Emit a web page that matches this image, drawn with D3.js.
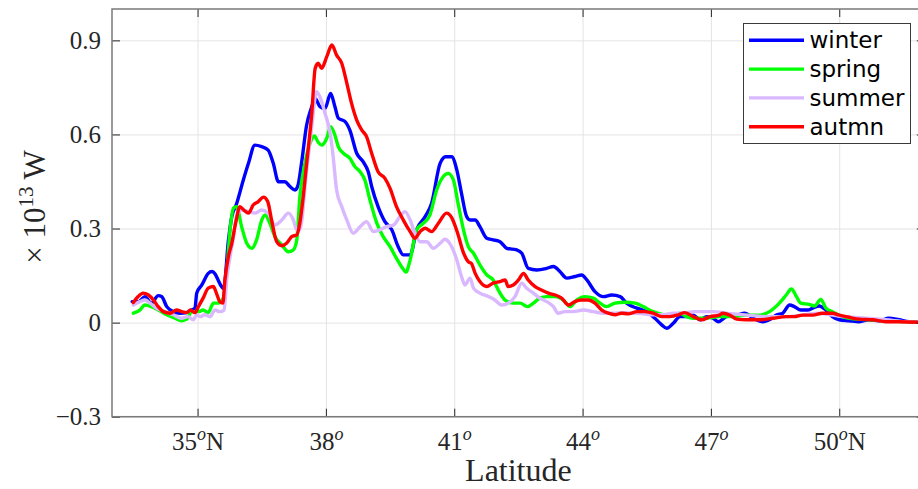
<!DOCTYPE html>
<html>
<head>
<meta charset="utf-8">
<script src="https://cdn.jsdelivr.net/npm/d3@7"></script>
<style>
  html, body { margin: 0; padding: 0; background: #fff; }
  svg { display: block; }
</style>
</head>
<body>
<svg id="chart" width="918" height="489"></svg>
<script>
// Seasonal heat transport (×10^13 W) against latitude
const seasons = ["winter", "spring", "summer", "autmn"];
const seasonColors = ["#0000ff", "#00ff00", "#d9b8ff", "#ff0000"];

const xTicks = [35, 38, 41, 44, 47, 50];
const xTickLabels = ["35^oN", "38^o", "41^o", "44^o", "47^o", "50^oN"];
const yTicks = [-0.3, 0, 0.3, 0.6, 0.9];
const yTickLabels = ["\u22120.3", "0", "0.3", "0.6", "0.9"];

// [latitude, value]
const winter = [[33.47,0.067],[33.62,0.067],[33.77,0.083],[33.92,0.062],[34.08,0.086],[34.16,0.083],[34.28,0.051],[34.43,0.035],[34.59,0.030],[34.74,0.032],[34.86,0.040],[34.94,0.046],[34.98,0.094],[35.10,0.120],[35.25,0.157],[35.34,0.163],[35.41,0.155],[35.48,0.136],[35.56,0.115],[35.61,0.108],[35.72,0.260],[35.80,0.338],[35.91,0.378],[36.07,0.455],[36.19,0.508],[36.34,0.566],[36.50,0.561],[36.65,0.550],[36.77,0.508],[36.89,0.449],[37.04,0.449],[37.16,0.434],[37.28,0.423],[37.35,0.439],[37.43,0.508],[37.55,0.630],[37.65,0.680],[37.75,0.715],[37.86,0.689],[37.98,0.683],[38.11,0.731],[38.21,0.689],[38.29,0.652],[38.45,0.641],[38.56,0.614],[38.72,0.540],[38.87,0.513],[38.99,0.481],[39.07,0.434],[39.22,0.370],[39.38,0.322],[39.54,0.296],[39.69,0.242],[39.81,0.216],[39.97,0.216],[40.12,0.296],[40.32,0.338],[40.47,0.380],[40.67,0.508],[40.80,0.529],[40.94,0.529],[41.06,0.487],[41.17,0.412],[41.29,0.338],[41.37,0.327],[41.49,0.327],[41.60,0.306],[41.76,0.269],[41.91,0.264],[42.07,0.258],[42.23,0.237],[42.46,0.232],[42.58,0.221],[42.73,0.173],[42.93,0.168],[43.16,0.173],[43.32,0.179],[43.47,0.163],[43.63,0.142],[43.82,0.147],[43.98,0.152],[44.10,0.136],[44.29,0.099],[44.49,0.083],[44.68,0.088],[44.88,0.083],[45.03,0.062],[45.27,0.046],[45.50,0.035],[45.69,0.014],[45.85,-0.007],[45.97,-0.018],[46.12,-0.002],[46.28,0.019],[46.43,0.019],[46.59,0.024],[46.74,0.009],[46.90,0.019],[47.05,0.014],[47.17,0.003],[47.36,0.019],[47.60,0.024],[47.79,0.030],[47.99,0.014],[48.22,0.003],[48.37,0.009],[48.53,0.024],[48.68,0.030],[48.84,0.056],[48.95,0.051],[49.10,0.040],[49.26,0.040],[49.38,0.046],[49.53,0.053],[49.69,0.040],[49.84,0.019],[50.00,0.009],[50.23,0.006],[50.47,0.003],[50.70,0.009],[50.93,0.006],[51.16,0.014],[51.40,0.009],[51.63,0.003],[52.00,0.000]];

const spring = [[33.50,0.030],[33.65,0.040],[33.77,0.056],[33.92,0.051],[34.08,0.040],[34.28,0.025],[34.47,0.014],[34.63,0.006],[34.75,0.011],[34.86,0.035],[35.02,0.035],[35.13,0.040],[35.25,0.032],[35.37,0.062],[35.48,0.062],[35.60,0.078],[35.68,0.157],[35.76,0.296],[35.84,0.365],[35.91,0.370],[36.03,0.306],[36.15,0.253],[36.27,0.237],[36.38,0.264],[36.50,0.327],[36.58,0.343],[36.69,0.317],[36.81,0.274],[36.97,0.248],[37.12,0.226],[37.24,0.232],[37.32,0.264],[37.39,0.400],[37.51,0.508],[37.63,0.572],[37.73,0.595],[37.82,0.575],[37.90,0.566],[38.02,0.588],[38.11,0.625],[38.21,0.598],[38.29,0.561],[38.41,0.540],[38.56,0.524],[38.68,0.497],[38.80,0.481],[38.91,0.455],[39.03,0.391],[39.19,0.317],[39.34,0.274],[39.50,0.242],[39.65,0.205],[39.81,0.170],[39.87,0.161],[39.97,0.200],[40.12,0.296],[40.28,0.317],[40.43,0.343],[40.59,0.423],[40.74,0.465],[40.86,0.476],[40.98,0.455],[41.09,0.380],[41.21,0.300],[41.33,0.242],[41.45,0.221],[41.60,0.184],[41.76,0.152],[41.91,0.136],[42.03,0.104],[42.19,0.072],[42.38,0.062],[42.54,0.062],[42.71,0.051],[42.85,0.062],[43.00,0.078],[43.16,0.083],[43.36,0.083],[43.55,0.072],[43.71,0.051],[43.86,0.072],[44.06,0.083],[44.25,0.078],[44.41,0.062],[44.56,0.051],[44.76,0.062],[44.99,0.065],[45.23,0.062],[45.42,0.051],[45.65,0.035],[45.89,0.025],[46.12,0.021],[46.28,0.030],[46.43,0.019],[46.59,0.014],[46.90,0.014],[47.20,0.019],[47.52,0.019],[47.83,0.024],[48.14,0.024],[48.37,0.035],[48.60,0.062],[48.76,0.088],[48.88,0.107],[49.00,0.083],[49.10,0.062],[49.30,0.058],[49.42,0.053],[49.57,0.074],[49.69,0.046],[49.84,0.035],[50.07,0.019],[50.39,0.011],[50.70,0.009],[51.09,0.006],[51.47,0.003],[52.00,0.000]];

const summer = [[33.50,0.056],[33.65,0.067],[33.77,0.072],[33.89,0.062],[34.04,0.046],[34.24,0.035],[34.43,0.025],[34.63,0.014],[34.78,0.019],[34.90,0.009],[34.98,0.025],[35.06,0.019],[35.17,0.025],[35.29,0.019],[35.41,0.040],[35.52,0.035],[35.62,0.040],[35.68,0.136],[35.76,0.210],[35.84,0.274],[35.91,0.338],[36.03,0.359],[36.19,0.354],[36.34,0.349],[36.50,0.359],[36.65,0.349],[36.81,0.311],[36.97,0.327],[37.12,0.349],[37.24,0.327],[37.32,0.296],[37.39,0.296],[37.55,0.487],[37.67,0.625],[37.78,0.736],[37.86,0.720],[37.98,0.667],[38.10,0.604],[38.17,0.529],[38.25,0.423],[38.37,0.370],[38.49,0.327],[38.64,0.285],[38.80,0.306],[38.95,0.322],[39.11,0.290],[39.26,0.296],[39.42,0.306],[39.58,0.311],[39.73,0.338],[39.85,0.354],[39.97,0.327],[40.08,0.285],[40.20,0.258],[40.36,0.258],[40.51,0.237],[40.67,0.253],[40.78,0.266],[40.94,0.242],[41.06,0.200],[41.17,0.147],[41.25,0.120],[41.37,0.142],[41.45,0.110],[41.60,0.094],[41.80,0.083],[41.95,0.072],[42.11,0.056],[42.26,0.062],[42.42,0.083],[42.58,0.126],[42.69,0.110],[42.85,0.094],[43.00,0.078],[43.16,0.067],[43.32,0.051],[43.43,0.030],[43.59,0.035],[43.78,0.035],[44.02,0.040],[44.25,0.035],[44.49,0.030],[44.72,0.030],[44.95,0.032],[45.18,0.030],[45.42,0.028],[45.65,0.025],[45.88,0.025],[46.12,0.030],[46.35,0.030],[46.60,0.035],[47.05,0.035],[47.36,0.030],[47.83,0.024],[48.30,0.019],[48.76,0.019],[49.14,0.024],[49.53,0.030],[49.84,0.024],[50.15,0.019],[50.62,0.014],[51.09,0.009],[51.56,0.003],[52.00,0.000]];

const autmn = [[33.50,0.064],[33.61,0.083],[33.73,0.094],[33.85,0.088],[33.97,0.072],[34.08,0.051],[34.20,0.035],[34.36,0.030],[34.51,0.040],[34.63,0.035],[34.75,0.032],[34.83,0.040],[34.94,0.032],[35.02,0.051],[35.13,0.078],[35.25,0.110],[35.37,0.115],[35.44,0.094],[35.52,0.067],[35.59,0.062],[35.64,0.136],[35.72,0.210],[35.80,0.253],[35.89,0.317],[35.99,0.370],[36.08,0.359],[36.19,0.349],[36.30,0.375],[36.42,0.386],[36.54,0.400],[36.64,0.386],[36.73,0.327],[36.85,0.258],[36.97,0.245],[37.08,0.253],[37.20,0.274],[37.32,0.280],[37.39,0.317],[37.47,0.402],[37.55,0.508],[37.67,0.667],[37.75,0.811],[37.82,0.827],[37.90,0.811],[38.02,0.848],[38.14,0.885],[38.25,0.853],[38.37,0.827],[38.49,0.763],[38.60,0.699],[38.72,0.646],[38.84,0.614],[38.95,0.593],[39.07,0.540],[39.22,0.481],[39.38,0.460],[39.50,0.428],[39.65,0.370],[39.81,0.327],[39.97,0.290],[40.08,0.269],[40.20,0.290],[40.32,0.301],[40.47,0.290],[40.63,0.317],[40.82,0.349],[40.94,0.335],[41.08,0.285],[41.21,0.225],[41.33,0.194],[41.40,0.189],[41.49,0.157],[41.60,0.131],[41.76,0.115],[41.91,0.126],[42.07,0.131],[42.19,0.136],[42.26,0.115],[42.38,0.120],[42.50,0.136],[42.62,0.157],[42.73,0.136],[42.89,0.115],[43.04,0.104],[43.20,0.094],[43.36,0.088],[43.51,0.078],[43.67,0.056],[43.82,0.067],[43.98,0.072],[44.13,0.072],[44.29,0.062],[44.45,0.040],[44.60,0.030],[44.76,0.025],[44.91,0.030],[45.07,0.028],[45.27,0.035],[45.46,0.035],[45.65,0.030],[45.85,0.019],[46.04,0.019],[46.24,0.025],[46.39,0.032],[46.59,0.019],[46.78,0.009],[46.98,0.019],[47.20,0.024],[47.28,0.030],[47.44,0.024],[47.60,0.011],[47.83,0.009],[48.14,0.009],[48.45,0.014],[48.76,0.019],[48.95,0.019],[49.14,0.024],[49.38,0.024],[49.61,0.030],[49.84,0.030],[50.00,0.024],[50.23,0.017],[50.47,0.011],[50.78,0.009],[51.09,0.003],[51.40,0.003],[52.00,0.000]];

const seriesData = [winter, spring, summer, autmn];

// ---- layout ----
const svg = d3.select("#chart");
const plot = { left: 112, top: 9, right: 924.8, bottom: 416.7 };
const W = plot.right - plot.left, H = plot.bottom - plot.top;

const x = d3.scaleLinear().domain([33, 52]).range([plot.left, plot.right]);
const y = d3.scaleLinear().domain([-0.3, 1.0]).range([plot.bottom, plot.top]);

const serif = "'Liberation Serif', 'Times New Roman', serif";
const inkColor = "#262626";

// grid
const grid = svg.append("g").attr("class", "grid");
grid.append("g")
  .attr("transform", `translate(0,${plot.bottom})`)
  .call(d3.axisBottom(x).tickValues(xTicks).tickSize(-H).tickFormat(""))
  .call(g => g.select(".domain").remove())
  .call(g => g.selectAll("line").attr("stroke", "#e3e3e3").attr("stroke-width", 1));
grid.append("g")
  .attr("transform", `translate(${plot.left},0)`)
  .call(d3.axisLeft(y).tickValues(yTicks).tickSize(-W).tickFormat(""))
  .call(g => g.select(".domain").remove())
  .call(g => g.selectAll("line").attr("stroke", "#e3e3e3").attr("stroke-width", 1));

// data lines
svg.append("clipPath").attr("id", "plotClip")
  .append("rect").attr("x", plot.left).attr("y", plot.top).attr("width", W).attr("height", H);

const line = d3.line()
  .x(d => x(d[0]))
  .y(d => y(d[1]))
  .curve(d3.curveMonotoneX);

svg.append("g").attr("clip-path", "url(#plotClip)")
  .selectAll("path")
  .data(seriesData)
  .join("path")
  .attr("d", line)
  .attr("fill", "none")
  .attr("stroke", (d, i) => seasonColors[i])
  .attr("stroke-width", 3.4)
  .attr("stroke-linejoin", "round")
  .attr("stroke-linecap", "round");

// axes (ticks point inward)
const styleAxis = g => {
  g.select(".domain").remove();
  g.selectAll(".tick line").attr("stroke", inkColor).attr("stroke-width", 1);
};

const xAxis = svg.append("g")
  .attr("transform", `translate(0,${plot.bottom})`)
  .call(d3.axisBottom(x).tickValues(xTicks).tickSize(-8).tickPadding(16).tickFormat((d, i) => ""))
  .call(styleAxis);

xAxis.selectAll(".tick text").each(function (d, i) {
  const m = xTickLabels[i].match(/^(\d+)\^o(N?)$/);
  const t = d3.select(this)
    .attr("fill", inkColor)
    .attr("font-family", serif)
    .attr("font-size", 25)
    .attr("dy", "0.71em");
  t.append("tspan").text(m[1]);
  t.append("tspan").attr("font-size", 18).attr("font-style", "italic").attr("dy", -10).text("o");
  if (m[2]) t.append("tspan").attr("font-size", 25).attr("dy", 10).text(m[2]);
});

svg.append("g")
  .attr("transform", `translate(0,${plot.top})`)
  .call(d3.axisTop(x).tickValues(xTicks).tickSize(-8).tickFormat(""))
  .call(styleAxis);

svg.append("g")
  .attr("transform", `translate(${plot.left},0)`)
  .call(d3.axisLeft(y).tickValues(yTicks).tickSize(-8).tickPadding(11)
    .tickFormat((d, i) => yTickLabels[i]))
  .call(styleAxis)
  .call(g => g.selectAll(".tick text")
    .attr("fill", inkColor)
    .attr("font-family", serif)
    .attr("font-size", 25));

svg.append("g")
  .attr("transform", `translate(${plot.right},0)`)
  .call(d3.axisRight(y).tickValues(yTicks).tickSize(-8).tickFormat(""))
  .call(styleAxis);

// box
svg.append("rect")
  .attr("x", plot.left).attr("y", plot.top)
  .attr("width", W).attr("height", H)
  .attr("fill", "none")
  .attr("stroke", "#7a7a7a")
  .attr("stroke-width", 1.5);

// axis titles
svg.append("text")
  .attr("x", (plot.left + plot.right) / 2)
  .attr("y", 481)
  .attr("text-anchor", "middle")
  .attr("fill", inkColor)
  .attr("font-family", serif)
  .attr("font-size", 32)
  .text("Latitude");

const yTitle = svg.append("text")
  .attr("transform", "translate(45,207) rotate(-90)")
  .attr("text-anchor", "middle")
  .attr("fill", inkColor)
  .attr("font-family", serif)
  .attr("font-size", 31);
yTitle.append("tspan").text("\u00d7 10");
yTitle.append("tspan").attr("font-size", 21).attr("dy", -12).text("13");
yTitle.append("tspan").attr("dy", 12).text(" W");

// legend
const legend = svg.append("g");
legend.append("rect")
  .attr("x", 743.5).attr("y", 23.5)
  .attr("width", 167).attr("height", 120)
  .attr("fill", "#fff")
  .attr("stroke", "#3a3a3a")
  .attr("stroke-width", 1);

const legendY = d3.scalePoint().domain(seasons).range([40.3, 126.7]);
const items = legend.selectAll("g.item")
  .data(seasons)
  .join("g")
  .attr("class", "item")
  .attr("transform", d => `translate(0,${legendY(d)})`);
items.append("line")
  .attr("x1", 749).attr("x2", 804)
  .attr("stroke", (d, i) => seasonColors[i])
  .attr("stroke-width", 3.4);
items.append("text")
  .attr("x", 809.5)
  .attr("dy", "0.35em")
  .attr("fill", "#000")
  .attr("font-family", "'DejaVu Sans', sans-serif")
  .attr("font-size", 23)
  .text(d => d);
</script>
</body>
</html>
